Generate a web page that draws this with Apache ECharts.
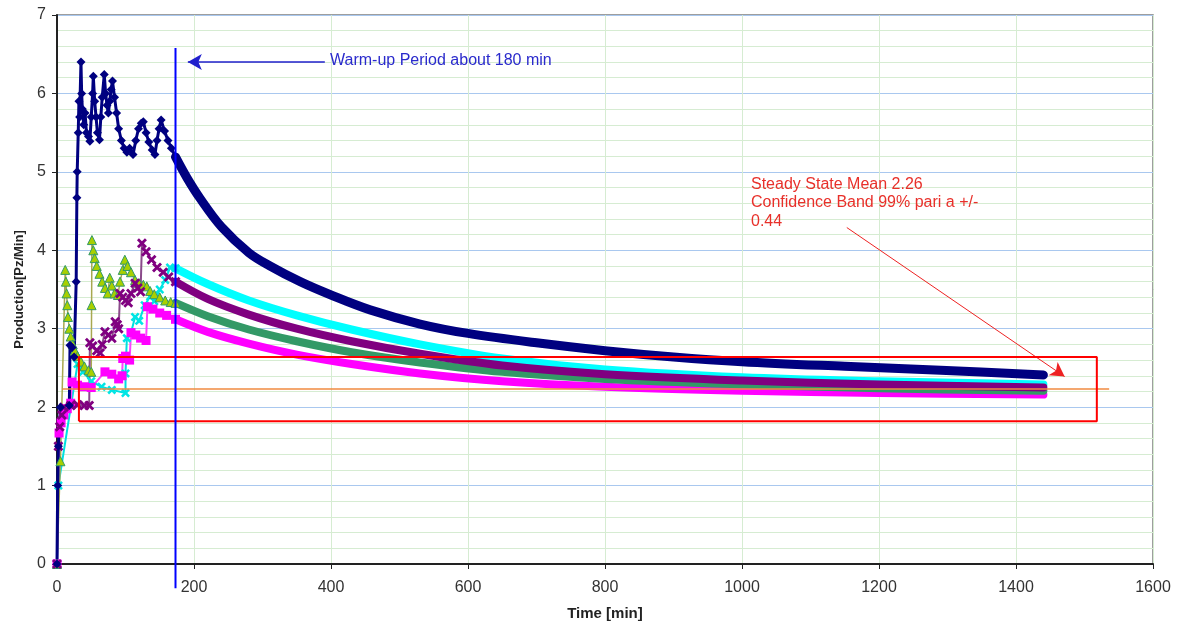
<!DOCTYPE html>
<html><head><meta charset="utf-8">
<script src="https://cdn.jsdelivr.net/npm/echarts@6/dist/echarts.min.js"></script>
<style>html,body{margin:0;padding:0;background:#fff}#c{width:1177px;height:625px}</style>
</head><body><div id="c"></div>
<script>
// ---- data (x = minutes, y = production) ----
const xTicks = [0,200,400,600,800,1000,1200,1400,1600];
const yTicks = [0,1,2,3,4,5,6,7];

const navyEarly = [[0,0],[1,1.0],[2,1.5],[5,2.0],[18,2.02],[19,2.79],[22,2.76],[25,2.64],[28,3.6],[29,4.67],[29.5,5.0],[31,5.5],[32,5.9],[33,5.7],[35,6.4],[36,6.0],[37,5.8],[39,5.6],[41,5.75],[43,5.5],[46,5.45],[48,5.39],[50,5.7],[52,6.0],[53,6.22],[55,5.9],[57,5.7],[59,5.5],[62,5.41],[64,5.7],[66,5.95],[69,6.24],[71,6.0],[73,5.85],[75,5.75],[77,5.9],[79,6.05],[81,6.16],[84,5.95],[87,5.75],[90,5.55],[94,5.4],[98,5.3],[102,5.25],[106,5.3],[111,5.22],[115,5.4],[119,5.55],[123,5.62],[126,5.64],[130,5.5],[134,5.38],[139,5.28],[143,5.22],[146,5.4],[149,5.55],[152,5.66],[157,5.52],[162,5.4],[167,5.3],[173,5.19]];
const navyLate = [[173,5.19],[190,4.92],[209,4.66],[240,4.3],[280,3.97],[311,3.8],[355,3.6],[400,3.43],[457,3.24],[530,3.06],[600,2.94],[700,2.82],[800,2.72],[900,2.64],[1000,2.58],[1150,2.52],[1290,2.47],[1440,2.41]];

const greenEarly = [[0,0],[5,1.31],[12,3.75],[13,3.6],[14,3.45],[15,3.3],[16,3.15],[18,3.0],[20,2.9],[23,2.8],[26,2.72],[30,2.65],[35,2.58],[40,2.52],[46,2.47],[50,2.45],[50.5,3.3],[51,4.13],[53,4.0],[55,3.9],[58,3.8],[62,3.7],[66,3.6],[70,3.52],[74,3.45],[77,3.65],[80,3.55],[84,3.45],[89,3.43],[92,3.6],[96,3.75],[99,3.88],[103,3.8],[108,3.72],[114,3.62],[120,3.58],[126,3.56],[131,3.54],[136,3.48],[142,3.44],[150,3.4],[158,3.36],[166,3.34],[173,3.33]];
const greenLate = [[173,3.33],[220,3.16],[280,2.99],[350,2.84],[430,2.7],[530,2.57],[650,2.45],[800,2.36],[1000,2.29],[1200,2.24],[1440,2.21]];

const cyanEarly = [[0,0],[2,1.0],[30,2.55],[38,2.45],[50,2.33],[65,2.26],[80,2.22],[100,2.18],[100,2.43],[102,2.88],[108,2.95],[114,3.15],[120,3.1],[128,3.3],[136,3.41],[142,3.35],[150,3.5],[158,3.62],[165,3.78],[173,3.77]];
const cyanLate = [[173,3.77],[220,3.57],[280,3.36],[350,3.17],[430,2.99],[530,2.8],[650,2.62],[800,2.48],[1000,2.38],[1200,2.33],[1440,2.29]];

const purpleEarly = [[0,0],[2,1.5],[4,1.75],[7,1.9],[10,2.0],[20,2.02],[30,2.03],[40,2.02],[47,2.02],[48,2.82],[52,2.78],[58,2.72],[63,2.69],[66,2.8],[70,2.96],[75,2.92],[80,2.88],[85,3.09],[88,3.05],[90,3.0],[92,3.45],[96,3.4],[100,3.36],[104,3.33],[108,3.45],[114,3.58],[118,3.52],[122,3.47],[124,4.09],[130,3.98],[138,3.88],[146,3.78],[155,3.72],[163,3.66],[173,3.6]];
const purpleLate = [[173,3.6],[220,3.38],[280,3.18],[350,3.0],[430,2.84],[530,2.68],[650,2.53],[800,2.42],[1000,2.34],[1200,2.29],[1440,2.25]];

const magentaEarly = [[0,0],[3,1.67],[6,1.8],[10,1.9],[15,1.98],[20,2.05],[22,2.32],[30,2.28],[40,2.26],[50,2.25],[70,2.45],[80,2.42],[90,2.36],[95,2.4],[96,2.62],[100,2.65],[106,2.6],[108,2.95],[115,2.92],[122,2.88],[130,2.85],[132,3.28],[140,3.25],[150,3.2],[160,3.17],[173,3.12]];
const magentaLate = [[173,3.12],[220,2.96],[280,2.81],[350,2.67],[430,2.55],[530,2.43],[650,2.33],[800,2.26],[1000,2.21],[1200,2.18],[1440,2.16]];

const warmupX = 173, warmupTop = 6.58, warmupBottom = -0.31;
const warmupArrow = [[391,6.4],[191,6.4]];
const bandRect = [[32,1.82],[1518,1.82],[1518,2.64],[32,2.64],[32,1.82]];
const meanLine = [[8,2.23],[1536,2.23]];
const redArrow = [[1153,4.29],[1471,2.39]];
const warmupText = 'Warm-up Period about 180 min';
const steadyText = ['Steady State Mean 2.26','Confidence Band 99% pari a +/-','0.44'];

const FONT = '"Liberation Sans", Arial, sans-serif';
const starPath = 'path://M0,2 L2,0 L5,3 L8,0 L10,2 L7,5 L10,8 L8,10 L5,7 L2,10 L0,8 L3,5 Z';

function early(data, color, lineColor, symbol, size, fill, lw) {
  return {type:'line', data, showSymbol:true, showAllSymbol:true, symbol, symbolSize:size,
    lineStyle:{color:lineColor, width:lw||1.5}, itemStyle:{color:fill||color, borderColor:color, borderWidth: fill?1:0},
    z:3, silent:true};
}
function late(data, color, w) {
  return {type:'line', data, showSymbol:false, smooth:0.35, lineStyle:{color, width:w, cap:'round', join:'round'}, z:3, silent:true};
}

const chart = echarts.init(document.getElementById('c'), null, {renderer:'canvas'});
chart.setOption({
  animation:false,
  backgroundColor:'#fff',
  grid:{left:57, right:24, top:15, bottom:61, containLabel:false, outerBoundsMode:'none',
    show:true, borderColor:'#7f7f7f', borderWidth:1.5},
  xAxis:{type:'value', min:xTicks[0], max:xTicks[xTicks.length-1], interval:200,
    name:'Time [min]', nameLocation:'middle', nameGap:42,
    nameTextStyle:{fontFamily:FONT, fontSize:15, fontWeight:'bold', color:'#222'},
    axisLine:{lineStyle:{color:'#222', width:2}},
    axisTick:{show:true, length:5, lineStyle:{color:'#222'}},
    axisLabel:{fontFamily:FONT, fontSize:16, color:'#333', margin:16, formatter:v=>String(v)},
    splitLine:{show:true, lineStyle:{color:'#d6ecd2', width:1}}},
  yAxis:{type:'value', min:yTicks[0], max:yTicks[yTicks.length-1], interval:1,
    name:'Production[Pz/Min]', nameLocation:'middle', nameGap:31, nameRotate:90,
    nameTextStyle:{fontFamily:FONT, fontSize:13, fontWeight:'bold', color:'#222'},
    axisLine:{show:true, lineStyle:{color:'#222', width:2}},
    axisTick:{show:true, length:5, lineStyle:{color:'#222'}},
    axisLabel:{fontFamily:FONT, fontSize:16, color:'#333', margin:11},
    splitLine:{show:true, lineStyle:{color:'#a9c8ef', width:1}},
    minorTick:{show:false, splitNumber:5},
    minorSplitLine:{show:true, lineStyle:{color:'#d6ecd2', width:1}}},
  series:[
    late(cyanLate,'#00ffff',8),
    late(magentaLate,'#ff00ff',8),
    late(greenLate,'#339966',8),
    late(purpleLate,'#800080',8),
    late(navyLate,'#000080',9),
    early(cyanEarly,'#00e5e5','#00e0e0',starPath,9,null,2),
    early(magentaEarly,'#ff00ff','#ff40ff','rect',9,null,2),
    early(greenEarly,'#339966','#a8a850','triangle',9,'#a8d000',1.5),
    early(purpleEarly,'#800080','#8a4a8a',starPath,10,null,2),
    early(navyEarly,'#000080','#000080','diamond',9,null,3),
    {type:'line', data:meanLine, showSymbol:false, lineStyle:{color:'#f08a40', width:1.5}, z:4, silent:true},
    {type:'line', data:bandRect, showSymbol:false, lineStyle:{color:'#ff0000', width:2}, z:5, silent:true},
    {type:'line', data:[[warmupX,warmupBottom],[warmupX,warmupTop]], clip:false, showSymbol:false,
      lineStyle:{color:'#0000ff', width:2}, z:6, silent:true},
    {type:'line', data:[], silent:true, markLine:{silent:true, animation:false, symbol:['none','arrow'], symbolSize:[12,14], label:{show:false},
      data:[
        [{coord:warmupArrow[0], lineStyle:{color:'#2020cc', width:1.5, type:'solid'}},{coord:warmupArrow[1]}],
        [{coord:redArrow[0], lineStyle:{color:'#ee2222', width:1, type:'solid'}},{coord:redArrow[1]}]
      ]}}
  ],
  graphic:[
    {type:'text', z:100, left:330, top:53, style:{text:warmupText, fill:'#2a2acc', font:'16px '+FONT}},
    {type:'text', z:100, left:751, top:175, style:{text:steadyText.join('\n'), fill:'#e8302a', font:'16px '+FONT, lineHeight:18.5}}
  ]
});
</script></body></html>
